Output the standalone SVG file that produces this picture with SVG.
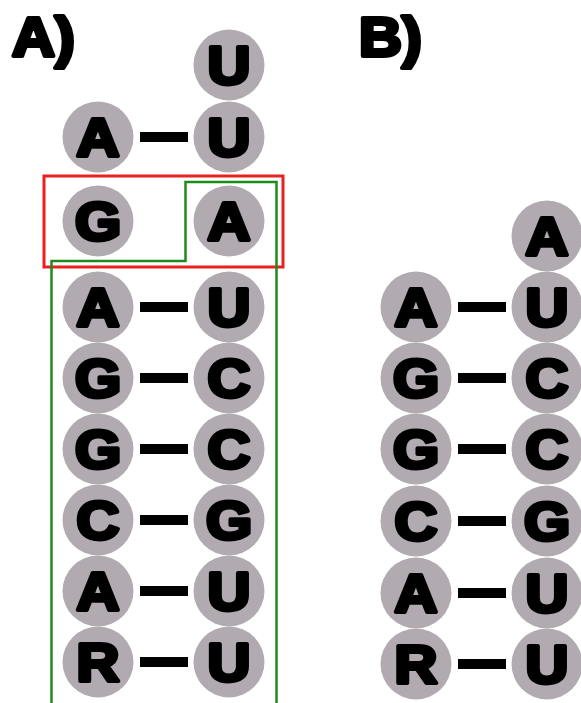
<svg xmlns="http://www.w3.org/2000/svg" width="581" height="703" viewBox="0 0 581 703">
  <style>
    .nt circle { fill: #b1abb1; }
    .nt text { font-family: "Liberation Sans", Arial, sans-serif; font-weight: bold; font-size: 53px; fill: #000; stroke: #000; stroke-width: 4px; stroke-linejoin: round; text-anchor: middle; transform-box: fill-box; transform-origin: center; transform: scaleX(1.12); }
    .lbl { font-family: "Liberation Sans", Arial, sans-serif; font-weight: bold; font-size: 55px; fill: #000; stroke: #000; stroke-width: 4px; stroke-linejoin: round; transform-box: fill-box; transform-origin: left center; transform: scaleX(1.08); }
    .bond { fill: #000; }
  </style>
  <rect width="581" height="703" fill="#fff"/>

  <!-- panel labels -->
  <text class="lbl" x="12" y="56">A)</text>
  <text class="lbl" x="359" y="56">B)</text>

  <!-- panel A nucleotides -->
  <g id="A-U-top" class="nt"><circle cx="229" cy="65" r="35.5"/><text x="229" y="84">U</text></g>
  <g id="A-A1" class="nt"><circle cx="98" cy="137" r="35.5"/><text x="98" y="156">A</text></g>
  <g id="A-U1" class="nt"><circle cx="229" cy="137" r="35.5"/><text x="229" y="156">U</text></g>
  <g id="A-G2" class="nt"><circle cx="98" cy="221" r="35.5"/><text x="98" y="240">G</text></g>
  <g id="A-A2" class="nt"><circle cx="229" cy="221" r="35.5"/><text x="229" y="240">A</text></g>
  <g id="A-A3" class="nt"><circle cx="98" cy="307" r="35.5"/><text x="98" y="326">A</text></g>
  <g id="A-U3" class="nt"><circle cx="229" cy="307" r="35.5"/><text x="229" y="326">U</text></g>
  <g id="A-G4" class="nt"><circle cx="98" cy="378" r="35.5"/><text x="98" y="397">G</text></g>
  <g id="A-C4" class="nt"><circle cx="229" cy="378" r="35.5"/><text x="229" y="397">C</text></g>
  <g id="A-G5" class="nt"><circle cx="98" cy="449" r="35.5"/><text x="98" y="468">G</text></g>
  <g id="A-C5" class="nt"><circle cx="229" cy="449" r="35.5"/><text x="229" y="468">C</text></g>
  <g id="A-C6" class="nt"><circle cx="98" cy="520" r="35.5"/><text x="98" y="539">C</text></g>
  <g id="A-G6" class="nt"><circle cx="229" cy="520" r="35.5"/><text x="229" y="539">G</text></g>
  <g id="A-A7" class="nt"><circle cx="98" cy="591" r="35.5"/><text x="98" y="610">A</text></g>
  <g id="A-U7" class="nt"><circle cx="229" cy="591" r="35.5"/><text x="229" y="610">U</text></g>
  <g id="A-R8" class="nt"><circle cx="98" cy="662" r="35.5"/><text x="98" y="681">R</text></g>
  <g id="A-U8" class="nt"><circle cx="229" cy="662" r="35.5"/><text x="229" y="681">U</text></g>

  <!-- panel B nucleotides -->
  <g id="B-A-top" class="nt"><circle cx="547" cy="236" r="35.5"/><text x="547" y="255">A</text></g>
  <g id="B-A1" class="nt"><circle cx="416" cy="307" r="35.5"/><text x="416" y="326">A</text></g>
  <g id="B-U1" class="nt"><circle cx="547" cy="307" r="35.5"/><text x="547" y="326">U</text></g>
  <g id="B-G2" class="nt"><circle cx="416" cy="378" r="35.5"/><text x="416" y="397">G</text></g>
  <g id="B-C2" class="nt"><circle cx="547" cy="378" r="35.5"/><text x="547" y="397">C</text></g>
  <g id="B-G3" class="nt"><circle cx="416" cy="449" r="35.5"/><text x="416" y="468">G</text></g>
  <g id="B-C3" class="nt"><circle cx="547" cy="449" r="35.5"/><text x="547" y="468">C</text></g>
  <g id="B-C4" class="nt"><circle cx="416" cy="521" r="35.5"/><text x="416" y="540">C</text></g>
  <g id="B-G4" class="nt"><circle cx="547" cy="521" r="35.5"/><text x="547" y="540">G</text></g>
  <g id="B-A5" class="nt"><circle cx="416" cy="593" r="35.5"/><text x="416" y="612">A</text></g>
  <g id="B-U5" class="nt"><circle cx="547" cy="593" r="35.5"/><text x="547" y="612">U</text></g>
  <g id="B-R6" class="nt"><circle cx="416" cy="664" r="35.5"/><text x="416" y="683">R</text></g>
  <g id="B-U6" class="nt"><circle cx="547" cy="664" r="35.5"/><text x="547" y="683">U</text></g>

  <!-- base-pair bonds -->
  <g id="bonds" class="bond">
    <rect x="140" y="132" width="48" height="10"/>
    <rect x="140" y="302" width="48" height="10"/>
    <rect x="140" y="373" width="48" height="10"/>
    <rect x="140" y="444" width="48" height="10"/>
    <rect x="140" y="515" width="48" height="10"/>
    <rect x="140" y="586" width="48" height="10"/>
    <rect x="140" y="657" width="48" height="10"/>
    <rect x="458" y="302" width="48" height="10"/>
    <rect x="458" y="373" width="48" height="10"/>
    <rect x="458" y="444" width="48" height="10"/>
    <rect x="458" y="516" width="48" height="10"/>
    <rect x="458" y="588" width="48" height="10"/>
    <rect x="458" y="659" width="48" height="10"/>
  </g>

  <!-- highlight outlines -->
  <g id="outlines" fill="none">
    <rect x="44" y="176" width="239" height="91" stroke="#e8201e" stroke-width="3"/>
    <polyline points="51.5,703 51.5,261 185.5,261 185.5,182 276.5,182 276.5,703" stroke="#1e8a1e" stroke-width="2.5"/>
  </g>
</svg>
